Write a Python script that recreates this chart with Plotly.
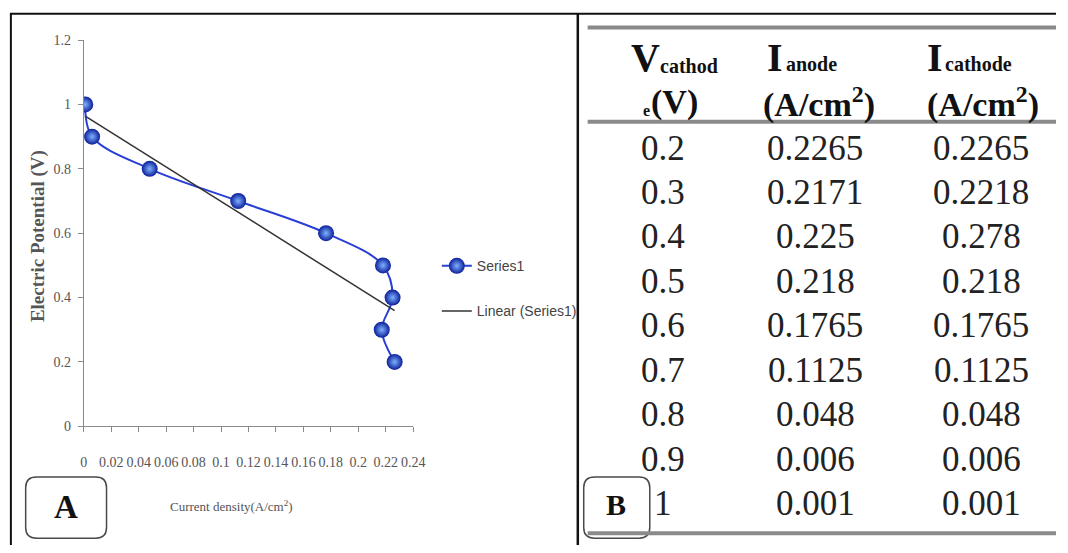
import numpy as np
import plotly.graph_objects as go

W, H = 1068, 553

# ---------------- data ----------------
v_cathode = [0.2, 0.3, 0.4, 0.5, 0.6, 0.7, 0.8, 0.9, 1.0]
i_anode = [0.2265, 0.2171, 0.225, 0.218, 0.1765, 0.1125, 0.048, 0.006, 0.001]
i_cathode = [0.2265, 0.2218, 0.278, 0.218, 0.1765, 0.1125, 0.048, 0.006, 0.001]
err_minus = [0.02, 0.02, 0.02, 0.02, 0.02, 0.02, 0.02, 0.02, 0.02]

x_ticks = [0, 0.02, 0.04, 0.06, 0.08, 0.1, 0.12, 0.14, 0.16, 0.18, 0.2, 0.22, 0.24]
x_tick_labels = ["0", "0.02", "0.04", "0.06", "0.08", "0.1", "0.12", "0.14",
                 "0.16", "0.18", "0.2", "0.22", "0.24"]
y_ticks = [0, 0.2, 0.4, 0.6, 0.8, 1.0, 1.2]
y_tick_labels = ["0", "0.2", "0.4", "0.6", "0.8", "1", "1.2"]

series_name = "Series1"
trend_name = "Linear (Series1)"
x_title = "Current density(A/cm<sup>2</sup>)"
y_title = "<b>Electric Potential (V)</b>"


def px(x):
    return x / W


def py(y):
    return 1 - y / H


fig = go.Figure()

# blue smoothed series with sphere markers
fig.add_trace(go.Scatter(
    x=i_anode, y=v_cathode, name=series_name, mode="lines+markers",
    line=dict(color="#2a3fd6", width=2, shape="spline", smoothing=1.0),
    marker=dict(symbol="circle", size=16, color="#0b1f9a",
                gradient=dict(type="radial", color="#7fb2ff"),
                line=dict(width=0)),
    error_y=dict(type="data", symmetric=False, array=[0] * len(err_minus),
                 arrayminus=err_minus, color="#b8b8b8", thickness=1, width=4),
    legendgroup="a",
))

# linear trendline
slope, intercept = np.polyfit(i_anode, v_cathode, 1)
tx = np.array([min(i_anode), max(i_anode)])
fig.add_trace(go.Scatter(
    x=tx, y=slope * tx + intercept, name=trend_name, mode="lines",
    line=dict(color="#333333", width=1.5), legendgroup="b",
))

tick_font = dict(family="Liberation Serif, Times New Roman, serif", size=14, color="#555555")

fig.update_layout(
    width=W, height=H,
    margin=dict(l=0, r=0, t=0, b=0),
    paper_bgcolor="white", plot_bgcolor="white",
    showlegend=True,
    legend=dict(x=px(440), y=py(250), xanchor="left", yanchor="top",
                bgcolor="rgba(0,0,0,0)", tracegroupgap=24,
                font=dict(family="Liberation Sans Narrow, Arial Narrow, Liberation Sans, sans-serif",
                          size=14, color="#444444"),
                traceorder="grouped"),
    xaxis=dict(domain=[px(82), px(416)], range=[0, 0.24], tickvals=x_ticks,
               ticktext=x_tick_labels, showgrid=False, zeroline=False,
               showline=True, linecolor="#8a8a8a", linewidth=1,
               ticks="outside", ticklen=5, tickcolor="#8a8a8a",
               tickfont=tick_font, ticklabelstandoff=18, fixedrange=True),
    yaxis=dict(domain=[py(431), py(34)], range=[0, 1.2], tickvals=y_ticks,
               ticktext=y_tick_labels, showgrid=False, zeroline=False,
               showline=True, linecolor="#8a8a8a", linewidth=1,
               ticks="outside", ticklen=5, tickcolor="#8a8a8a",
               tickfont=tick_font, ticklabelstandoff=4, fixedrange=True),
)

ann = []
# axis titles
ann.append(dict(x=px(35), y=py(236), xref="paper", yref="paper", text=y_title,
                textangle=-90, showarrow=False, xanchor="center", yanchor="middle",
                font=dict(family="Liberation Serif, serif", size=19, color="#555555")))
ann.append(dict(x=px(232), y=py(513), xref="paper", yref="paper", text=x_title,
                showarrow=False, xanchor="center", yanchor="middle",
                font=dict(family="Liberation Serif, serif", size=13, color="#555555")))

# ---------------- table (panel B) ----------------
col_x = [669, 824, 992]
row_y0, row_dy = 145, 45.7
serif = "Liberation Serif, Times New Roman, serif"
for i in range(len(v_cathode)):
    yy = row_y0 + i * row_dy
    for cx, val in zip(col_x, [v_cathode[i], i_anode[i], i_cathode[i]]):
        ann.append(dict(x=px(cx), y=py(yy), xref="paper", yref="paper",
                        text=f"{val:g}", showarrow=False, xanchor="center", yanchor="middle",
                        font=dict(family=serif, size=35, color="#222222")))

hdr_big = dict(family=serif, size=40, color="#111111")
hdr_sub = dict(family=serif, size=20, color="#111111")
hdr_unit = dict(family=serif, size=34, color="#111111")
header = [
    ("<b>V</b>", 668, 52, "right", hdr_big),
    ("<b>cathod</b>", 664, 61, "left", hdr_sub),
    ("<b>e</b>", 658, 106, "right", dict(family=serif, size=16, color="#111111")),
    ("<b>(V)</b>", 655, 98, "left", hdr_unit),
    ("<b>I</b>", 793, 52, "right", hdr_big),
    ("<b>anode</b>", 792, 59, "left", hdr_sub),
    ("<b>(A/cm<sup>2</sup>)</b>", 828, 98, "center", hdr_unit),
    ("<b>I</b>", 955, 52, "right", hdr_big),
    ("<b>cathode</b>", 953, 59, "left", hdr_sub),
    ("<b>(A/cm<sup>2</sup>)</b>", 994, 98, "center", hdr_unit),
]
for t, x, y, xa, f in header:
    ann.append(dict(x=px(x), y=py(y), xref="paper", yref="paper", text=t,
                    showarrow=False, xanchor=xa, yanchor="middle", font=f))

# panel labels
ann.append(dict(x=px(64), y=py(514), xref="paper", yref="paper", text="<b>A</b>",
                showarrow=False, xanchor="center", yanchor="middle",
                font=dict(family=serif, size=33, color="#111111")))
ann.append(dict(x=px(622), y=py(511), xref="paper", yref="paper", text="<b>B</b>",
                showarrow=False, xanchor="center", yanchor="middle",
                font=dict(family=serif, size=30, color="#111111")))

fig.update_layout(annotations=ann)


def line(x0, y0, x1, y1, color, width):
    return dict(type="line", xref="paper", yref="paper", x0=px(x0), y0=py(y0),
                x1=px(x1), y1=py(y1), line=dict(color=color, width=width), layer="above")


def rrect(x0, y0, x1, y1, r):
    pts = [
        f"M {px(x0 + r)} {py(y0)}", f"L {px(x1 - r)} {py(y0)}",
        f"Q {px(x1)} {py(y0)} {px(x1)} {py(y0 + r)}", f"L {px(x1)} {py(y1 - r)}",
        f"Q {px(x1)} {py(y1)} {px(x1 - r)} {py(y1)}", f"L {px(x0 + r)} {py(y1)}",
        f"Q {px(x0)} {py(y1)} {px(x0)} {py(y1 - r)}", f"L {px(x0)} {py(y0 + r)}",
        f"Q {px(x0)} {py(y0)} {px(x0 + r)} {py(y0)}", "Z",
    ]
    return dict(type="path", xref="paper", yref="paper", path=" ".join(pts),
                line=dict(color="#4a4a4a", width=1.5), fillcolor="white", layer="below")


shapes = [
    line(7, 7, W, 7, "#111111", 2),
    line(8, 7, 8, H, "#111111", 2),
    line(583, 7, 583, H, "#111111", 2.5),
    line(593, 21, W, 21, "#8a8a8a", 4),
    line(593, 118, W, 118, "#8a8a8a", 4),
    line(593, 541, W, 541, "#8a8a8a", 4),
    rrect(23, 483, 105, 546, 11),
    rrect(589, 483, 656, 546, 11),
]
fig.update_layout(shapes=shapes)

fig.write_html(
    "out.html",
    config={"displayModeBar": False},
    post_script="document.documentElement.style.margin='0';"
                "document.body.style.margin='0';document.body.style.padding='0';"
                "document.body.style.overflow='hidden';",
)
